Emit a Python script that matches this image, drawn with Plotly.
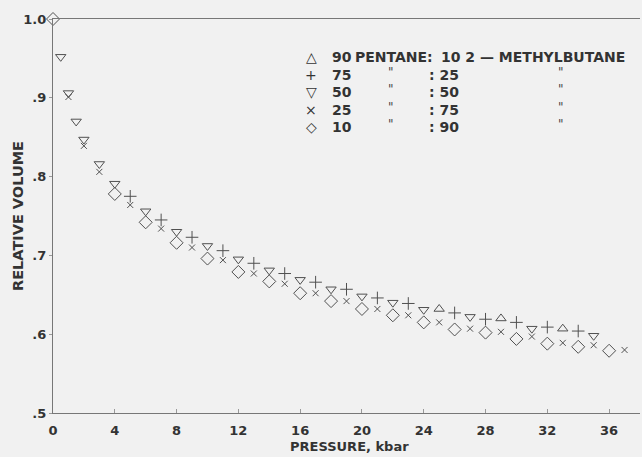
import plotly.graph_objects as go

# ---- data ----
tri_up_p = [25, 29, 33]
tri_up_v = [0.632, 0.620, 0.607]

plus_p = [5, 7, 9, 11, 13, 15, 17, 19, 21, 23, 26, 28, 30, 32, 34]
plus_v = [0.775, 0.745, 0.723, 0.706, 0.690, 0.677, 0.666, 0.657, 0.646, 0.639,
          0.627, 0.619, 0.615, 0.609, 0.604]

tri_dn_p = [0.5, 1, 1.5, 2, 3, 4, 6, 8, 10, 12, 14, 16, 18, 20, 22, 24, 27, 31, 35]
tri_dn_v = [0.952, 0.906, 0.870, 0.847, 0.816, 0.791, 0.756, 0.730, 0.712, 0.695,
            0.681, 0.669, 0.657, 0.648, 0.640, 0.631, 0.622, 0.607, 0.598]

x_p = [1, 2, 3, 5, 7, 9, 11, 13, 15, 17, 19, 21, 23, 25, 27, 29, 31, 33, 35, 37]
x_v = [0.901, 0.839, 0.806, 0.764, 0.734, 0.710, 0.694, 0.677, 0.664, 0.652,
       0.642, 0.632, 0.624, 0.615, 0.607, 0.603, 0.597, 0.589, 0.586, 0.580]

dia_p = [0, 4, 6, 8, 10, 12, 14, 16, 18, 20, 22, 24, 26, 28, 30, 32, 34, 36]
dia_v = [1.0, 0.778, 0.742, 0.716, 0.696, 0.679, 0.667, 0.652, 0.642, 0.632,
         0.624, 0.615, 0.606, 0.602, 0.594, 0.588, 0.584, 0.579]

x_ticks = [0, 4, 8, 12, 16, 20, 24, 28, 32, 36]
y_ticks = [0.5, 0.6, 0.7, 0.8, 0.9, 1.0]
y_tick_text = [".5", ".6", ".7", ".8", ".9", "1.0"]

legend_syms = ["\u25b3", "+", "\u25bd", "\u00d7", "\u25c7"]
legend_a = ["90", "75", "50", "25", "10"]
legend_b = ["10", "25", "50", "75", "90"]

INK = "#505050"
BG = "#f1f1f1"
FONT = "DejaVu Sans, sans-serif"
TXT = "#333333"

fig = go.Figure()

def add(px, pv, sym, size, name):
    fig.add_trace(go.Scatter(
        x=px, y=pv, mode="markers", name=name,
        marker=dict(symbol=sym, size=size, color=INK,
                    line=dict(color=INK, width=1)),
        showlegend=False, cliponaxis=False))

add(dia_p, dia_v, "diamond-open", 10, "10:90")
add(x_p, x_v, "x-thin-open", 6, "25:75")
add(tri_dn_p, tri_dn_v, "triangle-down-open", 9, "50:50")
add(plus_p, plus_v, "cross-thin-open", 9, "75:25")
add(tri_up_p, tri_up_v, "triangle-up-open", 9, "90:10")

L, R, T, B = 53, 2, 19, 44
PW, PH = 642 - L - R, 457 - T - B

def px2x(px):
    return (px - L) / PW

def py2y(py):
    return (457 - B - py) / PH

def txt(x, y, s, size=14, anchor="left", bold=True, color=TXT, family=FONT,
        style="normal"):
    return dict(x=px2x(x), y=py2y(y), text=("<b>%s</b>" % s) if bold else s,
                showarrow=False, xref="paper", yref="paper",
                xanchor=anchor, yanchor="middle",
                font=dict(family=family, size=size, color=color, style=style))

anns = []
row_y = [57, 75, 92, 110, 127]
for i in range(5):
    y = row_y[i]
    anns.append(txt(311, y, legend_syms[i], size=14, anchor="center", bold=False))
    anns.append(txt(330, y, legend_a[i]))
    if i == 0:
        anns.append(txt(353, y, "PENTANE:"))
        anns.append(txt(439, y, "10 2 \u2014 METHYLBUTANE"))
    else:
        for xx in (391, 561):
            anns.append(txt(xx, y - 3, '"', size=12, anchor="center",
                            bold=False, color="#444444", style="italic"))
        anns.append(txt(427, y, ": " + legend_b[i]))

anns.append(dict(x=px2x(18), y=0.5, text="<b>RELATIVE VOLUME</b>", textangle=-90,
                 showarrow=False, xref="paper", yref="paper",
                 xanchor="center", yanchor="middle",
                 font=dict(family=FONT, size=14.5, color=TXT)))
anns.append(txt(350, 447, "PRESSURE, kbar", size=13, anchor="center"))

fig.update_layout(
    width=642, height=457,
    margin=dict(l=L, r=R, t=T, b=B),
    paper_bgcolor=BG, plot_bgcolor=BG,
    annotations=anns,
    xaxis=dict(range=[0, 38], tickvals=x_ticks, showgrid=False, zeroline=False,
               showline=True, mirror=True, linecolor="#777777", linewidth=1.2,
               ticks="inside", ticklen=4, tickcolor="#999999",
               tickfont=dict(family=FONT, size=13, color=TXT, weight="bold"),
               ticklabelstandoff=5),
    yaxis=dict(range=[0.5, 1.0], tickvals=y_ticks, ticktext=y_tick_text,
               showgrid=False, zeroline=False, showline=True,
               linecolor="#777777", linewidth=1.2,
               ticks="outside", ticklen=3, tickcolor="#999999",
               tickfont=dict(family=FONT, size=13, color=TXT, weight="bold")),
)

fig.write_html("out.html", config={"displayModeBar": False})

with open("out.html", "r", encoding="utf-8") as f:
    html = f.read()
html = html.replace("<head>", "<head><style>html,body{margin:0;padding:0;overflow:hidden;}</style>", 1)
with open("out.html", "w", encoding="utf-8") as f:
    f.write(html)
